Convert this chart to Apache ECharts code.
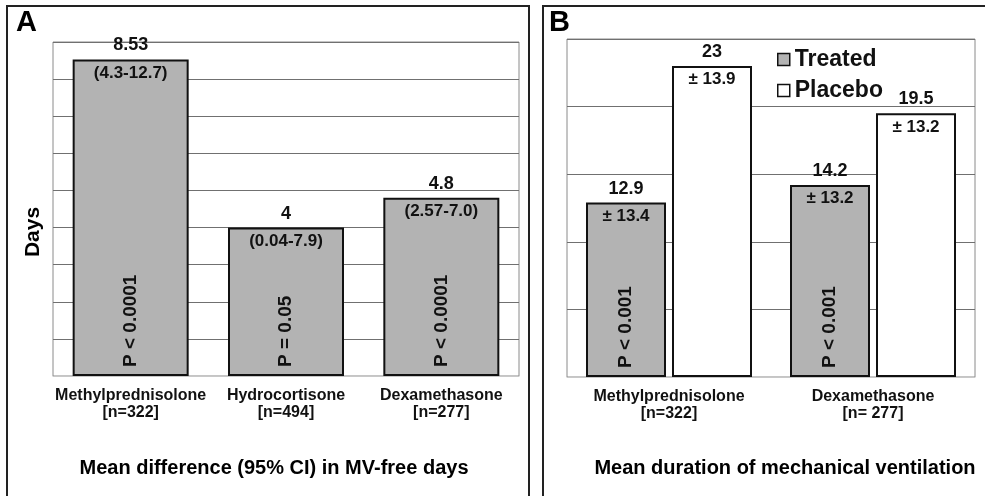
<!DOCTYPE html>
<html>
<head>
<meta charset="utf-8">
<script src="https://cdn.jsdelivr.net/npm/echarts@6/dist/echarts.min.js"></script>
<style>
html,body{margin:0;padding:0;background:#fff;}
#chart{width:985px;height:496px;}
</style>
</head>
<body>
<div id="chart"></div>
<script>
// Panel A data
const catsA = ['Methylprednisolone', 'Hydrocortisone', 'Dexamethasone'];
const nA = ['[n=322]', '[n=494]', '[n=277]'];
const diffA = [8.53, 4, 4.8];
const ciA = ['(4.3-12.7)', '(0.04-7.9)', '(2.57-7.0)'];
const pA = ['P < 0.0001', 'P = 0.05', 'P < 0.0001'];
// Panel B data
const catsB = ['Methylprednisolone', 'Dexamethasone'];
const nB = ['[n=322]', '[n= 277]'];
const treated = [12.9, 14.2];
const placebo = [23, 19.5];
const sdTreated = ['± 13.4', '± 13.2'];
const sdPlacebo = ['± 13.9', '± 13.2'];
const pB = ['P < 0.001', 'P < 0.001'];

const FONT = '"Liberation Sans", Arial, sans-serif';
const GRAY = '#b3b3b3';
const INK = '#111';

const chart = echarts.init(document.getElementById('chart'));

function topLabel(extra) {
  return {
    show: true,
    position: ['50%', -26],
    align: 'center',
    verticalAlign: 'top',
    fontFamily: FONT,
    color: INK,
    formatter: p => '{v|' + p.value + '}\n{c|' + extra[p.dataIndex] + '}',
    rich: {
      v: {fontSize: 18, fontWeight: 'bold', lineHeight: 24, fontFamily: FONT, color: INK},
      c: {fontSize: 17, fontWeight: 'bold', lineHeight: 31, fontFamily: FONT, color: INK}
    }
  };
}
function pLabel(texts) {
  return {
    show: true,
    position: 'insideBottom',
    rotate: 90,
    align: 'left',
    verticalAlign: 'middle',
    distance: 9,
    fontSize: 19,
    fontWeight: 'bold',
    fontFamily: FONT,
    color: INK,
    formatter: p => texts[p.dataIndex]
  };
}
function xLabels(ns) {
  return {
    show: true,
    interval: 0,
    margin: 11,
    fontFamily: FONT,
    fontSize: 16,
    fontWeight: 'bold',
    color: INK,
    lineHeight: 17,
    formatter: (v, i) => v + '\n' + ns[i]
  };
}

const option = {
  animation: false,
  backgroundColor: '#fff',
  grid: [
    {left: 53, top: 42, width: 466, height: 334, show: true, borderColor: '#8a8a8a', borderWidth: 1},
    {left: 567, top: 39, width: 408, height: 338, show: true, borderColor: '#8a8a8a', borderWidth: 1}
  ],
  xAxis: [
    {type: 'category', gridIndex: 0, data: catsA, axisTick: {show: false},
     axisLine: {lineStyle: {color: '#c8c8c8'}}, axisLabel: xLabels(nA)},
    {type: 'category', gridIndex: 1, data: catsB, axisTick: {show: false},
     axisLine: {lineStyle: {color: '#c8c8c8'}}, axisLabel: xLabels(nB)},
    {type: 'category', gridIndex: 0, data: catsA, show: false},
    {type: 'category', gridIndex: 1, data: catsB, show: false}
  ],
  yAxis: [
    {type: 'value', gridIndex: 0, min: 0, max: 9, interval: 1, axisLabel: {show: false},
     axisLine: {show: false}, axisTick: {show: false},
     splitLine: {lineStyle: {color: '#707070', width: 1}}},
    {type: 'value', gridIndex: 1, min: 0, max: 25, interval: 5, axisLabel: {show: false},
     axisLine: {show: false}, axisTick: {show: false},
     splitLine: {lineStyle: {color: '#707070', width: 1}}}
  ],
  legend: {
    data: ['Treated', 'Placebo'],
    orient: 'vertical',
    left: 777,
    top: 48,
    padding: 0,
    icon: 'rect',
    itemWidth: 12,
    itemHeight: 12,
    itemGap: 8,
    itemStyle: {borderColor: INK, borderWidth: 1.5},
    textStyle: {fontFamily: FONT, fontSize: 23, fontWeight: 'bold', color: INK, lineHeight: 22}
  },
  graphic: [
    {type: 'rect', shape: {x: 7, y: 6, width: 522, height: 520}, style: {fill: 'none', stroke: '#222', lineWidth: 2}, z: 100},
    {type: 'rect', shape: {x: 543, y: 6, width: 460, height: 520}, style: {fill: 'none', stroke: '#222', lineWidth: 2}, z: 100},
    {type: 'text', x: 16, y: 23, style: {text: 'A', font: 'bold 29px ' + FONT, fill: '#000', textVerticalAlign: 'middle'}},
    {type: 'text', x: 549, y: 23, style: {text: 'B', font: 'bold 29px ' + FONT, fill: '#000', textVerticalAlign: 'middle'}},
    {type: 'text', x: 33, y: 232, rotation: Math.PI / 2,
     style: {text: 'Days', font: 'bold 21px ' + FONT, fill: '#000', textAlign: 'center', textVerticalAlign: 'middle'}},
    {type: 'text', x: 274, y: 468,
     style: {text: 'Mean difference (95% CI) in MV-free days', font: 'bold 20px ' + FONT, fill: '#000', textAlign: 'center', textVerticalAlign: 'middle'}},
    {type: 'text', x: 785, y: 468,
     style: {text: 'Mean duration of mechanical ventilation', font: 'bold 20px ' + FONT, fill: '#000', textAlign: 'center', textVerticalAlign: 'middle'}}
  ],
  series: [
    {name: 'Difference', type: 'bar', xAxisIndex: 0, yAxisIndex: 0, data: diffA, barWidth: 116,
     itemStyle: {color: GRAY, borderColor: INK, borderWidth: 2}, label: topLabel(ciA), z: 3},
    {name: 'pA', type: 'bar', xAxisIndex: 2, yAxisIndex: 0, data: diffA, barWidth: 116,
     itemStyle: {color: 'rgba(0,0,0,0)', borderWidth: 0}, label: pLabel(pA), z: 4, silent: true},
    {name: 'Treated', type: 'bar', xAxisIndex: 1, yAxisIndex: 1, data: treated, barWidth: 80, barGap: '7.5%',
     itemStyle: {color: GRAY, borderColor: INK, borderWidth: 2}, label: topLabel(sdTreated), z: 3},
    {name: 'Placebo', type: 'bar', xAxisIndex: 1, yAxisIndex: 1, data: placebo, barWidth: 80, barGap: '7.5%',
     itemStyle: {color: '#fff', borderColor: INK, borderWidth: 2}, label: topLabel(sdPlacebo), z: 3},
    {name: 'pB', type: 'bar', xAxisIndex: 3, yAxisIndex: 1, data: treated, barWidth: 80, barGap: '7.5%',
     itemStyle: {color: 'rgba(0,0,0,0)', borderWidth: 0}, label: pLabel(pB), z: 4, silent: true},
    {name: 'pBdummy', type: 'bar', xAxisIndex: 3, yAxisIndex: 1, data: placebo, barWidth: 80, barGap: '7.5%',
     itemStyle: {color: 'rgba(0,0,0,0)', borderWidth: 0}, label: {show: false}, z: 4, silent: true}
  ]
};
chart.setOption(option);
</script>
</body>
</html>
